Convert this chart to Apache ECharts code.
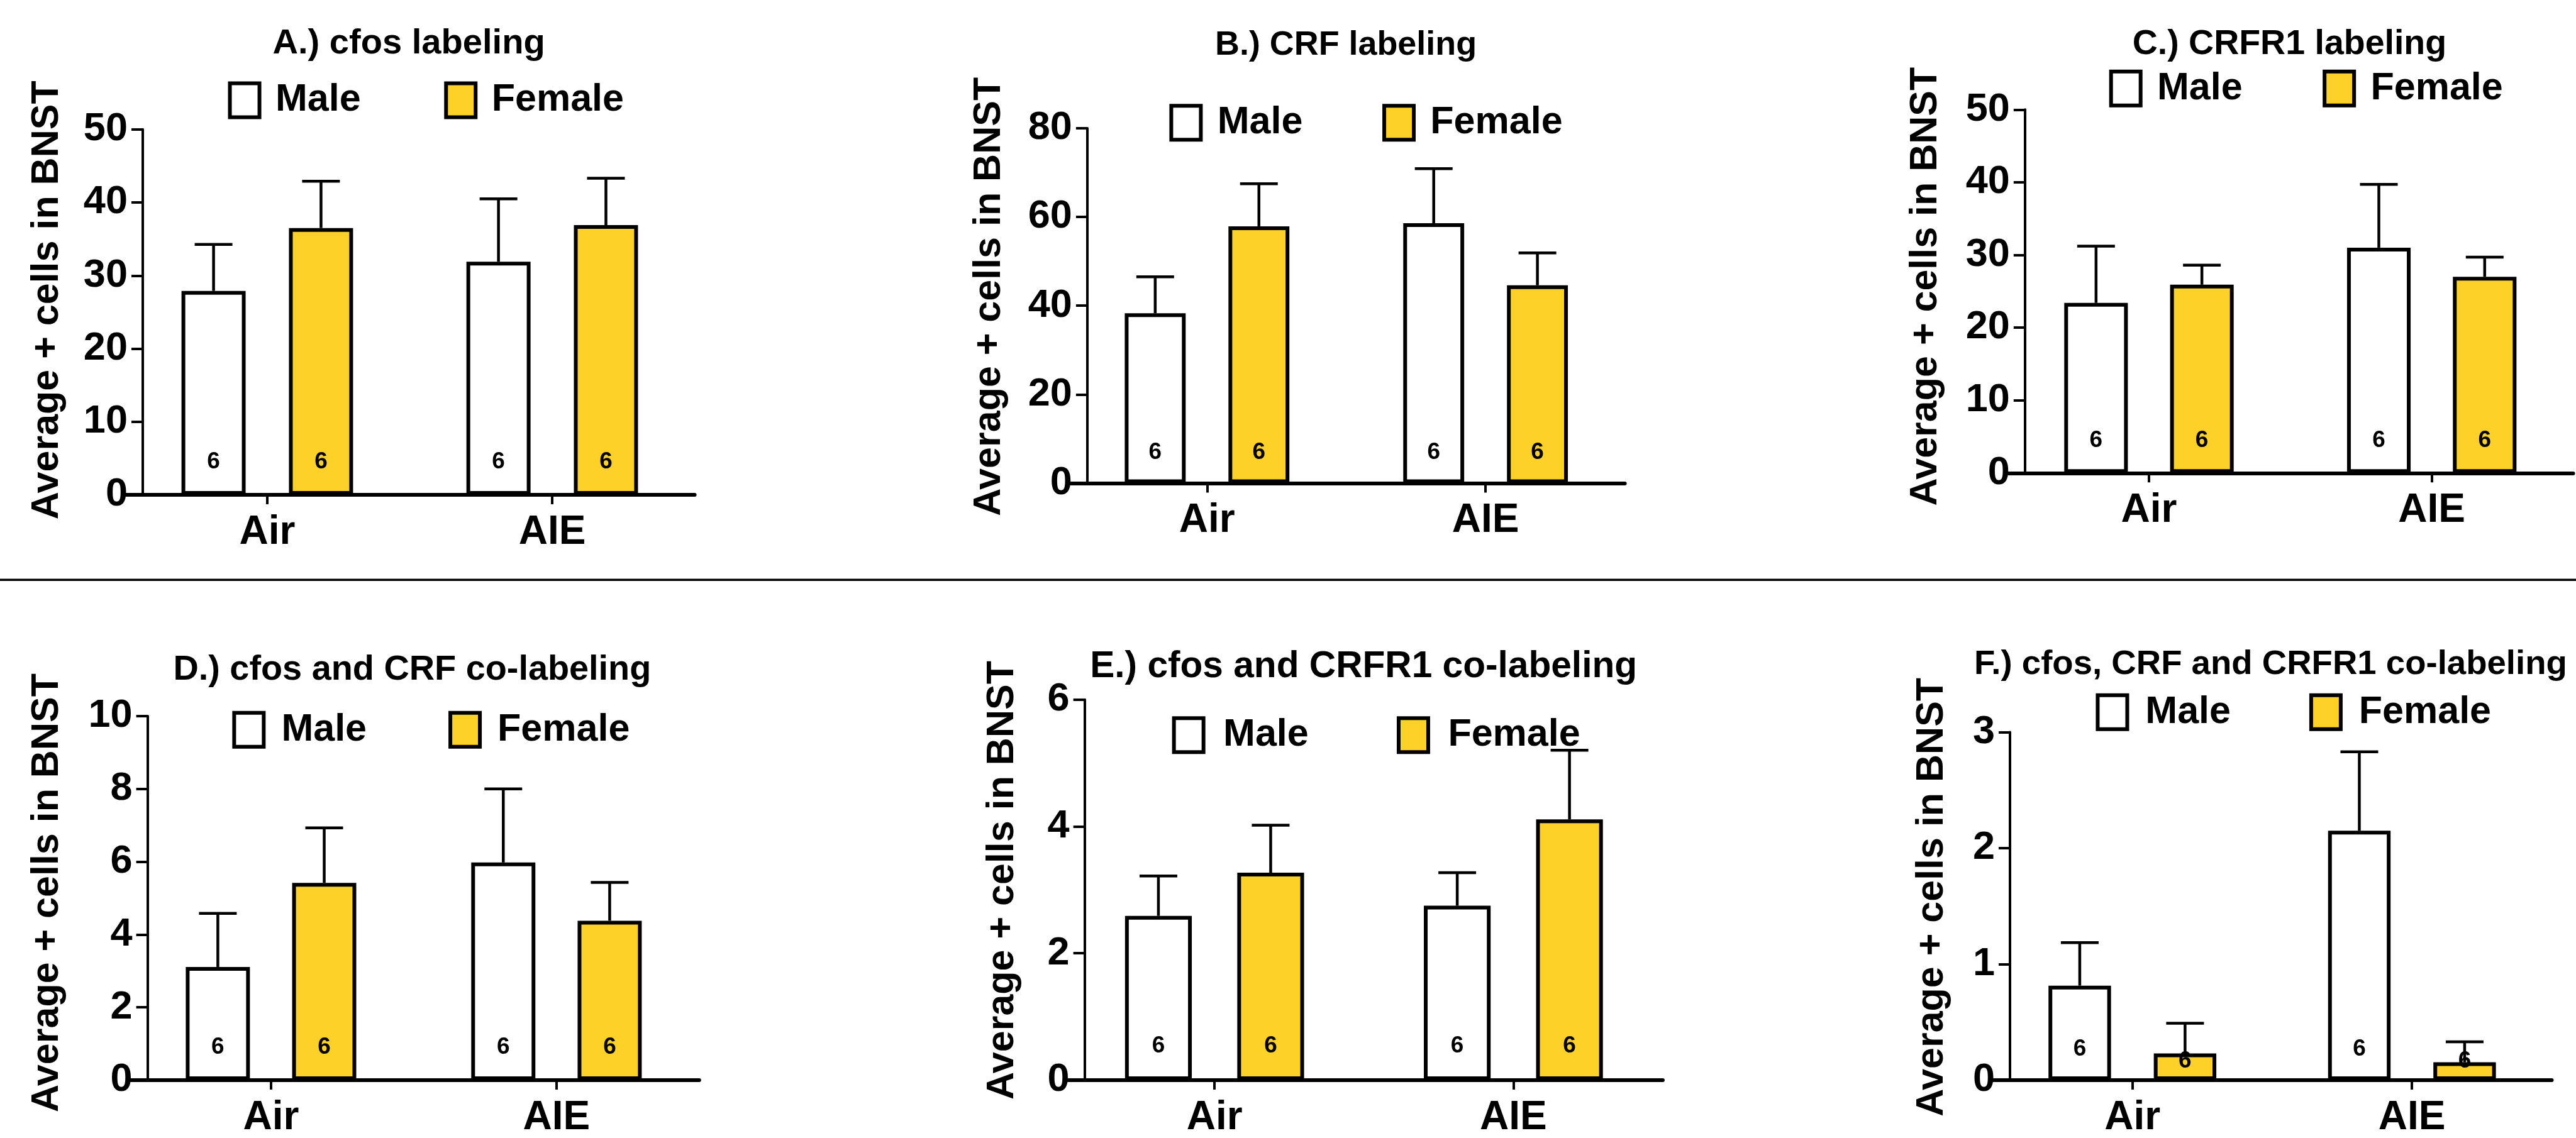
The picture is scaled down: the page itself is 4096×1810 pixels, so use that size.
<!DOCTYPE html>
<html><head><meta charset="utf-8">
<script src="https://cdn.jsdelivr.net/npm/echarts@6.0.0/dist/echarts.min.js"></script>
<style>html,body{margin:0;padding:0;background:#fff}#c{width:4096px;height:1810px}</style>
</head><body><div id="c"></div>
<script>
// ---------- data ----------
const categories = ['Air', 'AIE'];
const groupNames = ['Male', 'Female'];
const panelTitles = ['A.) cfos labeling', 'B.) CRF labeling', 'C.) CRFR1 labeling',
  'D.) cfos and CRF co-labeling', 'E.) cfos and CRFR1 co-labeling', 'F.) cfos, CRF and CRFR1 co-labeling'];
const yAxisTitle = 'Average + cells in BNST';
const yMax = [50, 80, 50, 10, 6, 3];
const yStep = [10, 20, 10, 2, 2, 1];
const maleMean = [[27.9, 31.9], [38.3, 58.6], [23.4, 31.0], [3.11, 5.98], [2.59, 2.75], [0.815, 2.15]];
const maleSem = [[6.35, 8.6], [8.2, 12.3], [7.8, 8.7], [1.47, 2.02], [0.63, 0.52], [0.37, 0.68]];
const femaleMean = [[36.5, 36.9], [57.9, 44.6], [25.9, 27.0], [5.42, 4.38], [3.27, 4.11], [0.23, 0.154]];
const femaleSem = [[6.4, 6.4], [9.6, 7.3], [2.7, 2.7], [1.51, 1.05], [0.75, 1.09], [0.26, 0.176]];
const maleN = [[6, 6], [6, 6], [6, 6], [6, 6], [6, 6], [6, 6]];
const femaleN = [[6, 6], [6, 6], [6, 6], [6, 6], [6, 6], [6, 6]];

// ---------- layout (reference pixels, scaled by S) ----------
const S = 0.85;
const FF = "'Liberation Sans', Arial, Helvetica, sans-serif";
const layout = [
  {ax: 267, zero: 926, top: 242, c: [500, 1033], bw: 127, d: 100.5, tl: 510, tt: 57, tf: 66, lx: 423, ly: 153, lg: 156, lt: 30, ng: 139, ns: 22.5, ml: 62, fl: 62},
  {ax: 2034, zero: 904, top: 240, c: [2258, 2779], bw: 121, d: 97, tl: 2273, tt: 61, tf: 63.4, lx: 2184, ly: 195, lg: 149, lt: 31, ng: 143, ns: 17, ml: 57, fl: 57},
  {ax: 3788, zero: 885, top: 205, c: [4020, 4549], bw: 126, d: 99, tl: 3989, tt: 59, tf: 65.3, lx: 3942, ly: 131, lg: 150, lt: 31, ng: 145, ns: 9, ml: 60, fl: 60},
  {ax: 276, zero: 2026, top: 1340, c: [507, 1041], bw: 127, d: 99.5, tl: 324, tt: 1229, tf: 65.7, lx: 431, ly: 1331, lg: 153, lt: 33, ng: 148, ns: 10, ml: 62, fl: 62},
  {ax: 2029, zero: 2026, top: 1309, c: [2272, 2831], bw: 132, d: 105, tl: 2039, tt: 1222, tf: 69, lx: 2189, ly: 1341, lg: 165, lt: 37, ng: 113, ns: 18, ml: 64, fl: 64},
  {ax: 3760, zero: 2041, top: 1370, c: [3989, 4512], bw: 124, d: 98.5, tl: 3693, tt: 1219, tf: 64.2, lx: 3917, ly: 1298, lg: 147, lt: 34, ng: 106, ns: 17, ml: 58, fl: 35}
];
const FEMALE = '#FDD127';
const BORDER = 6;

const grids = [], xAxes = [], yAxes = [], series = [], titles = [], legends = [];

function errorSeries(i, name, means, sems, dx) {
  return {
    type: 'custom', name: name + ' SEM', xAxisIndex: i, yAxisIndex: i, clip: false, silent: true,
    z: 3,
    encode: {x: 0, y: 1},
    data: means.map((m, k) => [k, m, sems[k]]),
    renderItem: (params, api) => {
      const k = api.value(0), m = api.value(1), e = api.value(2);
      const p0 = api.coord([k, m]);
      const p1 = api.coord([k, m + e]);
      const cx = p0[0] + dx;
      const cap = 30;
      const st = {stroke: '#000', lineWidth: 4.5};
      return {type: 'group', children: [
        {type: 'line', shape: {x1: cx, y1: p0[1], x2: cx, y2: p1[1]}, style: st},
        {type: 'line', shape: {x1: cx - cap, y1: p1[1], x2: cx + cap, y2: p1[1]}, style: st}
      ]};
    }
  };
}

layout.forEach((L, i) => {
  const sp = L.c[1] - L.c[0];
  const gl = (L.c[0] - sp / 2) * S;
  const gw = 2 * sp * S;
  grids.push({left: gl, width: gw, top: L.top * S, height: (L.zero - L.top) * S, containLabel: false});
  xAxes.push({
    type: 'category', gridIndex: i, data: categories,
    axisLine: {show: true, lineStyle: {color: '#000', width: 6}},
    axisTick: {show: true, alignWithLabel: true, length: 15, lineStyle: {color: '#000', width: 4}},
    axisLabel: {fontSize: 64, fontWeight: 'bold', color: '#000', fontFamily: FF, margin: 28},
    splitLine: {show: false}
  });
  yAxes.push({
    type: 'value', gridIndex: i, min: 0, max: yMax[i], interval: yStep[i],
    offset: gl - L.ax * S,
    name: yAxisTitle, nameLocation: 'middle', nameRotate: 90, nameGap: L.ng * S + 3.5,
    nameTextStyle: {fontSize: 61, fontWeight: 'bold', color: '#000', fontFamily: FF, padding: [0, 0, 0, 2 * L.ns * S]},
    axisLine: {show: true, lineStyle: {color: '#000', width: 4}},
    axisTick: {show: true, length: 18, lineStyle: {color: '#000', width: 4}},
    axisLabel: {fontSize: 63, fontWeight: 'bold', color: '#000', fontFamily: FF, margin: 24},
    splitLine: {show: false}
  });
  const bw = L.bw * S - BORDER;
  const gapPct = ((2 * L.d * S - bw) / bw * 100).toFixed(2) + '%';
  const labelBase = {show: true, position: 'insideBottom', fontSize: 37, fontWeight: 'bold', color: '#000', fontFamily: FF};
  series.push({
    type: 'bar', name: groupNames[0], xAxisIndex: i, yAxisIndex: i, data: maleMean[i],
    barWidth: bw, barGap: gapPct,
    itemStyle: {color: '#ffffff', borderColor: '#000', borderWidth: BORDER},
    label: Object.assign({}, labelBase, {distance: L.ml * S - 18.5, formatter: p => String(maleN[i][p.dataIndex])})
  });
  series.push({
    type: 'bar', name: groupNames[1], xAxisIndex: i, yAxisIndex: i, data: femaleMean[i],
    barWidth: bw, barGap: gapPct,
    itemStyle: {color: FEMALE, borderColor: '#000', borderWidth: BORDER},
    label: Object.assign({}, labelBase, {distance: L.fl * S - 18.5, formatter: p => String(femaleN[i][p.dataIndex])})
  });
  series.push(errorSeries(i, groupNames[0], maleMean[i], maleSem[i], -L.d * S));
  series.push(errorSeries(i, groupNames[1], femaleMean[i], femaleSem[i], L.d * S));
  const tf = L.tf * S;
  titles.push({
    text: panelTitles[i], left: L.tl * S, top: L.tt * S - 0.13 * tf, padding: 0,
    textStyle: {fontSize: tf, fontWeight: 'bold', color: '#000', fontFamily: FF}
  });
  legends.push({
    data: groupNames, left: L.lx * S + 3, top: L.ly * S - 1, padding: 0, orient: 'horizontal',
    icon: 'rect', itemWidth: 47, itemHeight: 54, itemGap: L.lg * S, selectedMode: false,
    itemStyle: {borderColor: '#000', borderWidth: BORDER},
    textStyle: {fontSize: 61, fontWeight: 'bold', color: '#000', fontFamily: FF, padding: [0, 0, 0, L.lt * S - 5]}
  });
});

const chart = echarts.init(document.getElementById('c'), null, {renderer: 'canvas'});
chart.setOption({
  backgroundColor: '#ffffff',
  animation: false,
  title: titles,
  legend: legends,
  grid: grids,
  xAxis: xAxes,
  yAxis: yAxes,
  series: series,
  graphic: [{
    type: 'line', shape: {x1: 0, y1: 1085 * S, x2: 4096, y2: 1085 * S},
    style: {stroke: '#000', lineWidth: 3.5}
  }]
});
</script></body></html>
